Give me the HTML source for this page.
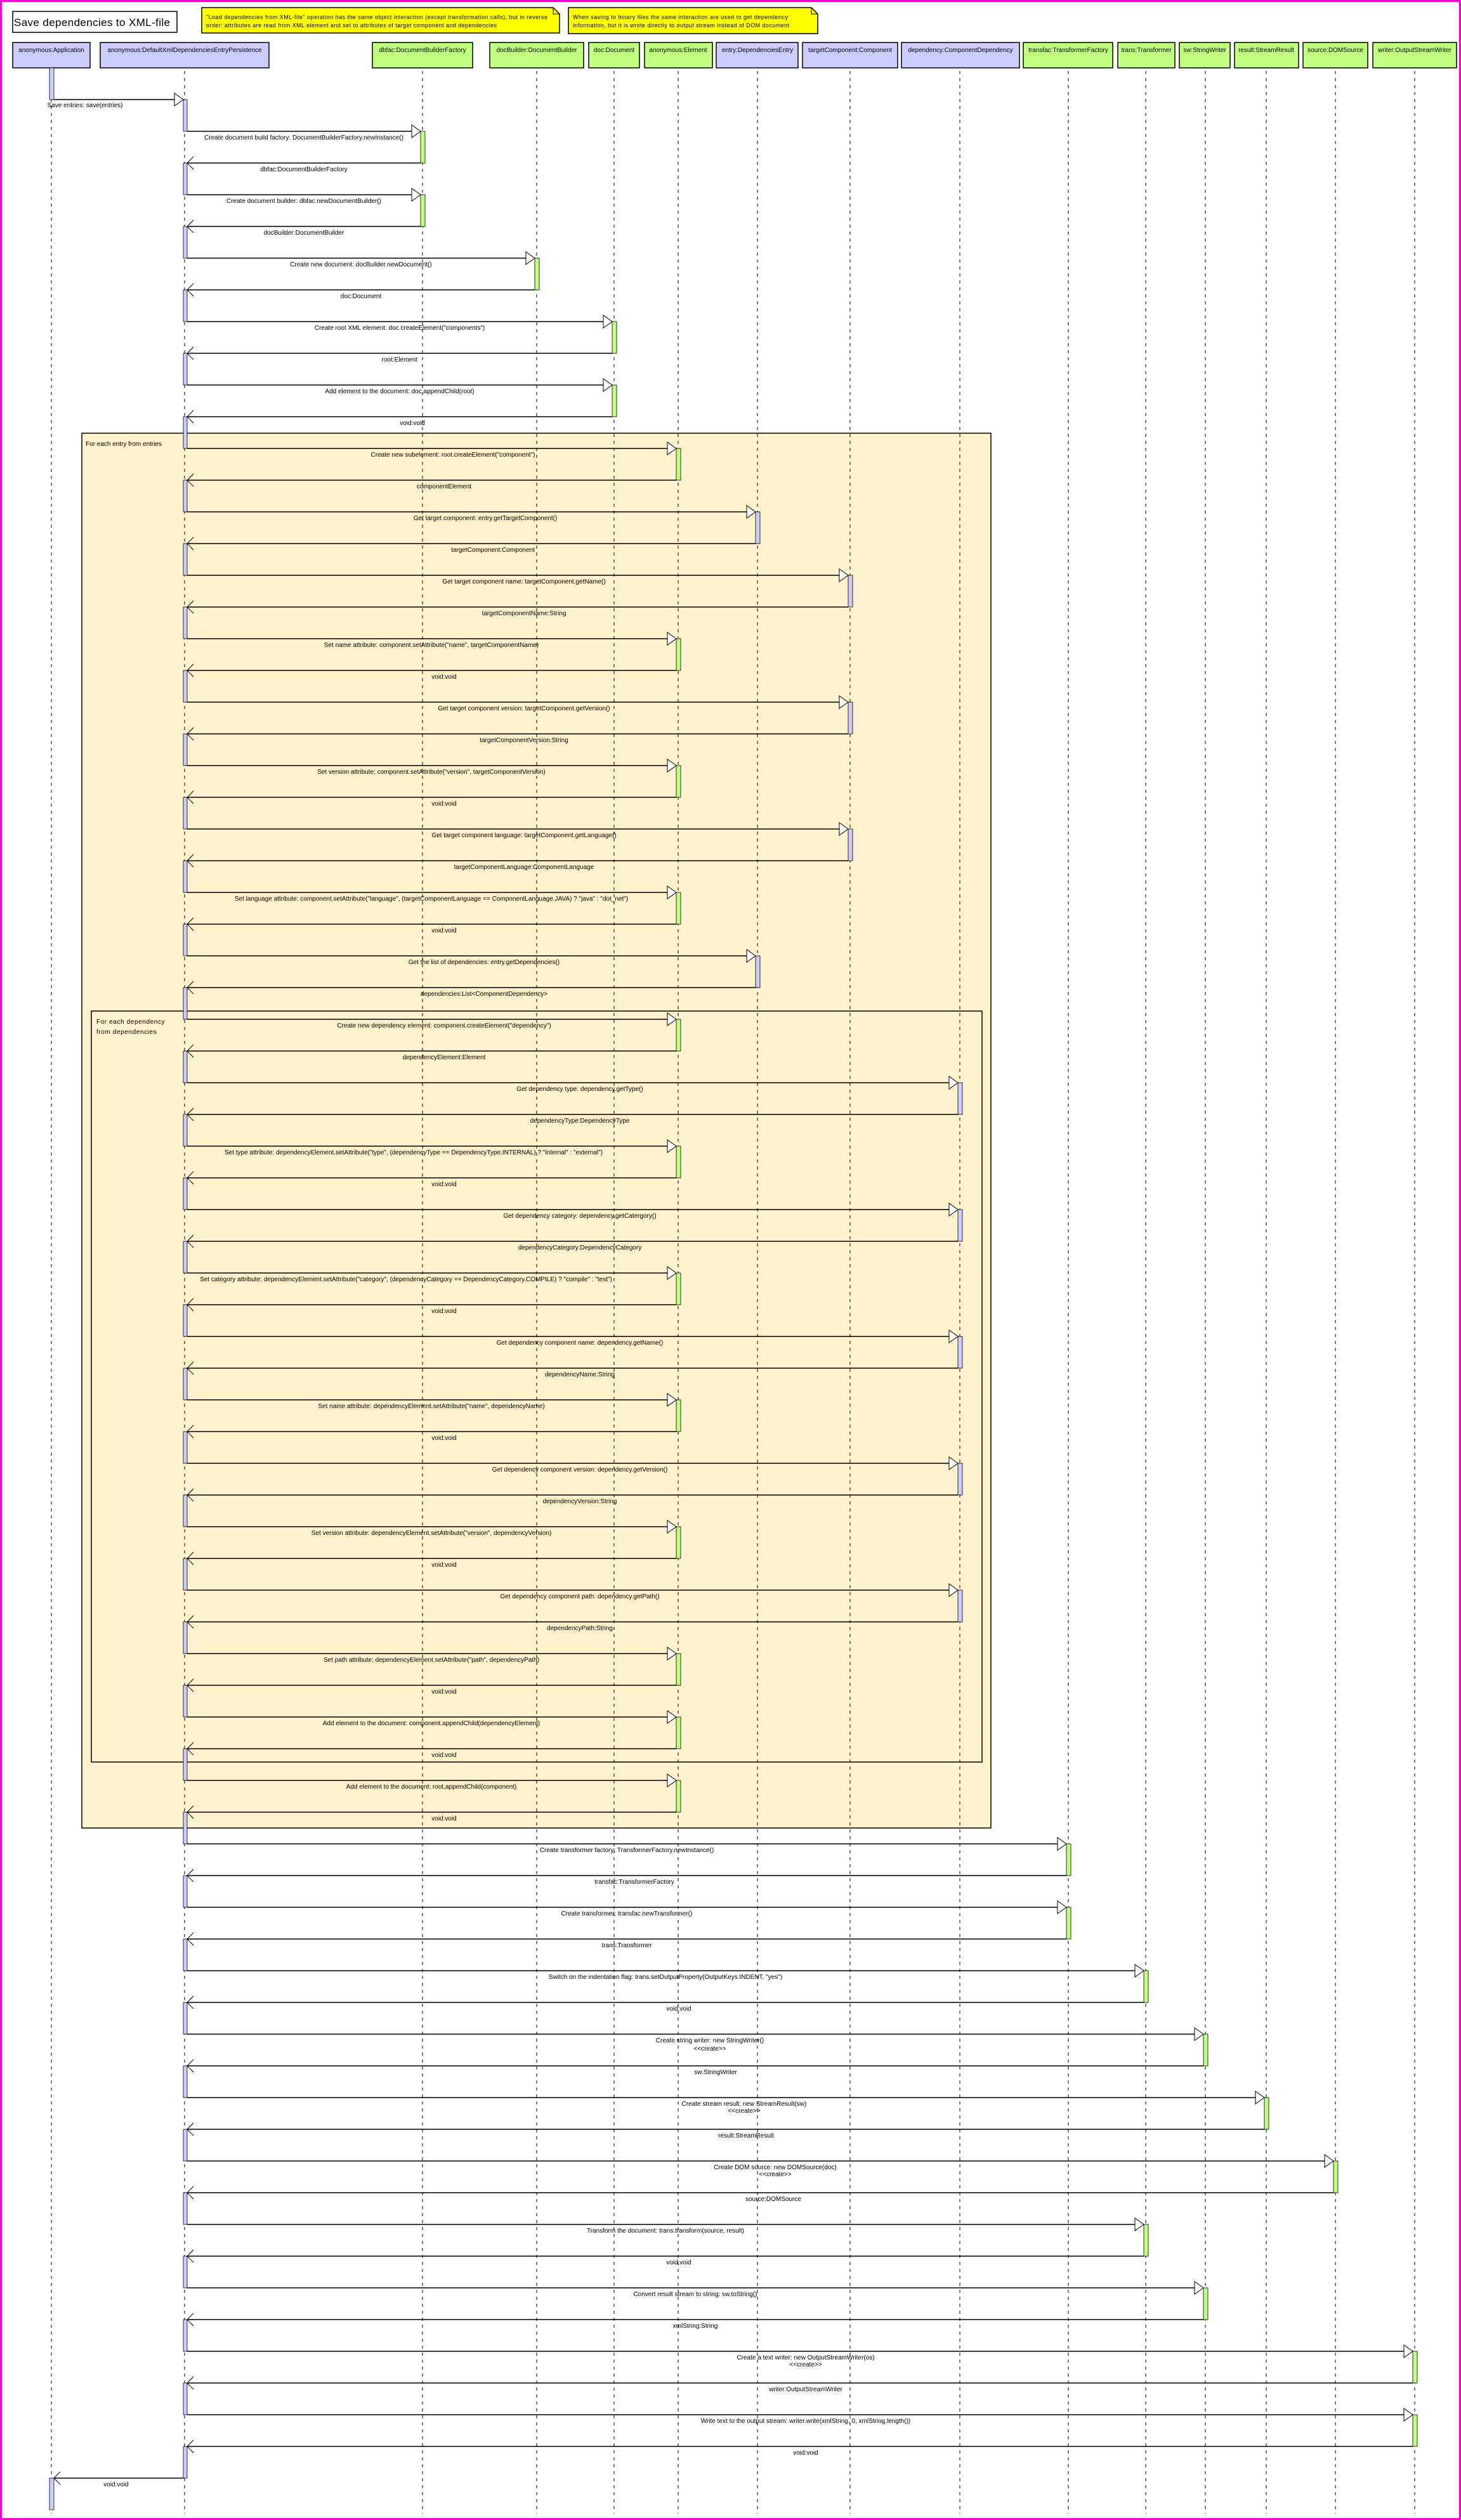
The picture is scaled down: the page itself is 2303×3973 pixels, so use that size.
<!DOCTYPE html>
<html><head><meta charset="utf-8"><style>
html,body{margin:0;padding:0;background:#fff}
svg{display:block}
text{font-family:"Liberation Sans",sans-serif;font-size:10px;fill:#000}
.m{text-anchor:middle}
.ln{stroke:#000;stroke-width:1.5;fill:none}
.ll{stroke:#000;stroke-width:1;stroke-dasharray:5,6}
.tri{fill:#fff;stroke:#000;stroke-width:1}
.op{fill:none;stroke:#000;stroke-width:1}
.g{fill:#c0ff80;stroke:#000;stroke-width:0.8}
.b{fill:#ccccff;stroke:#000;stroke-width:0.8}
.hb{fill:#ccccff;stroke:#000;stroke-width:1.5}
.hg{fill:#c0ff80;stroke:#000;stroke-width:1.5}
</style></head><body>
<svg width="2303" height="3973" viewBox="0 0 2303 3973" xmlns="http://www.w3.org/2000/svg">
<rect x="1.5" y="1.5" width="2300" height="3970" fill="#fff" stroke="#ff00cc" stroke-width="3"/>
<!-- title -->
<rect x="20" y="18" width="259" height="33" fill="#fff" stroke="#000" stroke-width="1.5"/>
<text x="22" y="41" style="font-size:17px" textLength="246">Save dependencies to XML-file</text>
<!-- notes -->
<path d="M318,12 L872,12 L882,22 L882,52 L318,52 Z" fill="#ffff00" stroke="#000" stroke-width="1.5"/>
<path d="M872,12 L872,22 L882,22" fill="none" stroke="#000" stroke-width="1"/>
<text x="325" y="30" style="font-size:9px" textLength="538">"Load dependencies from XML-file" operation has the same object interaction (except transformation calls), but in reverse</text>
<text x="325" y="43" style="font-size:9px" textLength="458">order: attributes are read from XML element and set to attributes of target component and dependencies</text>
<path d="M896,12 L1279,12 L1289,22 L1289,53 L896,53 Z" fill="#ffff00" stroke="#000" stroke-width="1.5"/>
<path d="M1279,12 L1279,22 L1289,22" fill="none" stroke="#000" stroke-width="1"/>
<text x="903" y="30" style="font-size:9px" textLength="339">When saving to binary files the same interaction are used to get dependency</text>
<text x="903" y="43" style="font-size:9px" textLength="341">information, but it is wrote directly to output stream instead of DOM document</text>
<!-- headers -->
<rect class="hb" x="20" y="67" width="122" height="40"/><text class="m" x="81" y="82">anonymous:Application</text>
<rect class="hb" x="158" y="67" width="266" height="40"/><text class="m" x="291" y="82">anonymous:DefaultXmlDependenciesEntryPersistence</text>
<rect class="hg" x="587" y="67" width="158" height="40"/><text class="m" x="666" y="82">dbfac:DocumentBuilderFactory</text>
<rect class="hg" x="772" y="67" width="148" height="40"/><text class="m" x="846" y="82">docBuilder:DocumentBuilder</text>
<rect class="hg" x="928" y="67" width="80" height="40"/><text class="m" x="968" y="82">doc:Document</text>
<rect class="hg" x="1016" y="67" width="107" height="40"/><text class="m" x="1069" y="82">anonymous:Element</text>
<rect class="hb" x="1129" y="67" width="129" height="40"/><text class="m" x="1194" y="82">entry:DependenciesEntry</text>
<rect class="hb" x="1265" y="67" width="150" height="40"/><text class="m" x="1340" y="82">targetComponent:Component</text>
<rect class="hb" x="1421" y="67" width="186" height="40"/><text class="m" x="1514" y="82">dependency:ComponentDependency</text>
<rect class="hg" x="1613" y="67" width="141" height="40"/><text class="m" x="1684" y="82">transfac:TransformerFactory</text>
<rect class="hg" x="1762" y="67" width="90" height="40"/><text class="m" x="1807" y="82">trans:Transformer</text>
<rect class="hg" x="1859" y="67" width="80" height="40"/><text class="m" x="1899" y="82">sw:StringWriter</text>
<rect class="hg" x="1946" y="67" width="101" height="40"/><text class="m" x="1996" y="82">result:StreamResult</text>
<rect class="hg" x="2054" y="67" width="102" height="40"/><text class="m" x="2105" y="82">source:DOMSource</text>
<rect class="hg" x="2164" y="67" width="132" height="40"/><text class="m" x="2230" y="82">writer:OutputStreamWriter</text>
<!-- loop frames -->
<rect x="129" y="683" width="1433" height="2199" fill="#fff2cc" stroke="#000" stroke-width="1.5"/>
<text x="135" y="703">For each entry from entries</text>
<rect x="144" y="1594" width="1404" height="1184" fill="#fff2cc" stroke="#000" stroke-width="1.5"/>
<text x="152" y="1614" style="letter-spacing:0.6px">For each dependency</text>
<text x="152" y="1630" style="letter-spacing:0.6px">from dependencies</text>
<!-- lifelines -->
<line class="ll" x1="81" y1="112" x2="81" y2="3963"/>
<line class="ll" x1="291" y1="112" x2="291" y2="3963"/>
<line class="ll" x1="666" y1="112" x2="666" y2="3963"/>
<line class="ll" x1="846" y1="112" x2="846" y2="3963"/>
<line class="ll" x1="968" y1="112" x2="968" y2="3963"/>
<line class="ll" x1="1069" y1="112" x2="1069" y2="3963"/>
<line class="ll" x1="1194" y1="112" x2="1194" y2="3963"/>
<line class="ll" x1="1340" y1="112" x2="1340" y2="3963"/>
<line class="ll" x1="1513" y1="112" x2="1513" y2="3963"/>
<line class="ll" x1="1684" y1="112" x2="1684" y2="3963"/>
<line class="ll" x1="1806" y1="112" x2="1806" y2="3963"/>
<line class="ll" x1="1900" y1="112" x2="1900" y2="3963"/>
<line class="ll" x1="1996" y1="112" x2="1996" y2="3963"/>
<line class="ll" x1="2105" y1="112" x2="2105" y2="3963"/>
<line class="ll" x1="2230" y1="112" x2="2230" y2="3963"/>

<!-- app activations and save -->
<rect class="b" x="78" y="107" width="7" height="50"/>
<line class="ln" x1="85" y1="157" x2="289" y2="157"/>
<polygon class="tri" points="289,157 275,147 275,167"/>
<rect class="b" x="289" y="157" width="6" height="50"/>
<text class="m" x="134" y="169">Save entries: save(entries)</text>
<line class="ln" x1="289" y1="3907" x2="85" y2="3907"/>
<polyline class="op" points="95,3897 85,3907 95,3917"/>
<rect class="b" x="78" y="3907" width="7" height="50"/>
<text class="m" x="183" y="3920">void:void</text>

<!-- 207 dbfac -->
<line class="ln" x1="295" y1="207" x2="663" y2="207"/><polygon class="tri" points="663,207 649,197 649,217"/><rect class="g" x="663" y="207" width="7" height="50"/>
<text class="m" x="479" y="220">Create document build factory: DocumentBuilderFactory.newInstance()</text>
<line class="ln" x1="663" y1="257" x2="295" y2="257"/><polyline class="op" points="305,247 295,257 305,267"/><rect class="b" x="289" y="257" width="6" height="50"/>
<text class="m" x="479" y="270">dbfac:DocumentBuilderFactory</text>
<!-- 307 -->
<line class="ln" x1="295" y1="307" x2="663" y2="307"/><polygon class="tri" points="663,307 649,297 649,317"/><rect class="g" x="663" y="307" width="7" height="50"/>
<text class="m" x="479" y="320">Create document builder: dbfac.newDocumentBuilder()</text>
<line class="ln" x1="663" y1="357" x2="295" y2="357"/><polyline class="op" points="305,347 295,357 305,367"/><rect class="b" x="289" y="357" width="6" height="50"/>
<text class="m" x="479" y="370">docBuilder:DocumentBuilder</text>
<!-- 407 docB -->
<line class="ln" x1="295" y1="407" x2="843" y2="407"/><polygon class="tri" points="843,407 829,397 829,417"/><rect class="g" x="843" y="407" width="7" height="50"/>
<text class="m" x="569" y="420">Create new document: docBuilder.newDocument()</text>
<line class="ln" x1="843" y1="457" x2="295" y2="457"/><polyline class="op" points="305,447 295,457 305,467"/><rect class="b" x="289" y="457" width="6" height="50"/>
<text class="m" x="569" y="470">doc:Document</text>
<!-- 507 doc -->
<line class="ln" x1="295" y1="507" x2="965" y2="507"/><polygon class="tri" points="965,507 951,497 951,517"/><rect class="g" x="965" y="507" width="7" height="50"/>
<text class="m" x="630" y="520">Create root XML element: doc.createElement("components")</text>
<line class="ln" x1="965" y1="557" x2="295" y2="557"/><polyline class="op" points="305,547 295,557 305,567"/><rect class="b" x="289" y="557" width="6" height="50"/>
<text class="m" x="630" y="570">root:Element</text>
<!-- 607 doc -->
<line class="ln" x1="295" y1="607" x2="965" y2="607"/><polygon class="tri" points="965,607 951,597 951,617"/><rect class="g" x="965" y="607" width="7" height="50"/>
<text class="m" x="630" y="620">Add element to the document: doc.appendChild(root)</text>
<line class="ln" x1="965" y1="657" x2="295" y2="657"/><polyline class="op" points="305,647 295,657 305,667"/><rect class="b" x="289" y="657" width="6" height="50"/>
<text class="m" x="650" y="670">void:void</text>
<!-- 707 elem -->
<line class="ln" x1="295" y1="707" x2="1066" y2="707"/><polygon class="tri" points="1066,707 1052,697 1052,717"/><rect class="g" x="1066" y="707" width="7" height="50"/>
<text class="m" x="714" y="720">Create new subelement: root.createElement("component")</text>
<line class="ln" x1="1066" y1="757" x2="295" y2="757"/><polyline class="op" points="305,747 295,757 305,767"/><rect class="b" x="289" y="757" width="6" height="50"/>
<text class="m" x="700" y="770">componentElement</text>
<!-- 807 entry -->
<line class="ln" x1="295" y1="807" x2="1191" y2="807"/><polygon class="tri" points="1191,807 1177,797 1177,817"/><rect class="b" x="1191" y="807" width="7" height="50"/>
<text class="m" x="765" y="820">Get target component: entry.getTargetComponent()</text>
<line class="ln" x1="1191" y1="857" x2="295" y2="857"/><polyline class="op" points="305,847 295,857 305,867"/><rect class="b" x="289" y="857" width="6" height="50"/>
<text class="m" x="777" y="870">targetComponent:Component</text>
<!-- 907 tc -->
<line class="ln" x1="295" y1="907" x2="1337" y2="907"/><polygon class="tri" points="1337,907 1323,897 1323,917"/><rect class="b" x="1337" y="907" width="7" height="50"/>
<text class="m" x="826" y="920">Get target component name: targetComponent.getName()</text>
<line class="ln" x1="1337" y1="957" x2="295" y2="957"/><polyline class="op" points="305,947 295,957 305,967"/><rect class="b" x="289" y="957" width="6" height="50"/>
<text class="m" x="826" y="970">targetComponentName:String</text>
<!-- 1007 elem -->
<line class="ln" x1="295" y1="1007" x2="1066" y2="1007"/><polygon class="tri" points="1066,1007 1052,997 1052,1017"/><rect class="g" x="1066" y="1007" width="7" height="50"/>
<text class="m" x="680" y="1020">Set name attribute: component.setAttribute("name", targetComponentName)</text>
<line class="ln" x1="1066" y1="1057" x2="295" y2="1057"/><polyline class="op" points="305,1047 295,1057 305,1067"/><rect class="b" x="289" y="1057" width="6" height="50"/>
<text class="m" x="700" y="1070">void:void</text>
<!-- 1107 tc -->
<line class="ln" x1="295" y1="1107" x2="1337" y2="1107"/><polygon class="tri" points="1337,1107 1323,1097 1323,1117"/><rect class="b" x="1337" y="1107" width="7" height="50"/>
<text class="m" x="826" y="1120">Get target component version: targetComponent.getVersion()</text>
<line class="ln" x1="1337" y1="1157" x2="295" y2="1157"/><polyline class="op" points="305,1147 295,1157 305,1167"/><rect class="b" x="289" y="1157" width="6" height="50"/>
<text class="m" x="826" y="1170">targetComponentVersion:String</text>
<!-- 1207 elem -->
<line class="ln" x1="295" y1="1207" x2="1066" y2="1207"/><polygon class="tri" points="1066,1207 1052,1197 1052,1217"/><rect class="g" x="1066" y="1207" width="7" height="50"/>
<text class="m" x="680" y="1220">Set version attribute: component.setAttribute("version", targetComponentVersion)</text>
<line class="ln" x1="1066" y1="1257" x2="295" y2="1257"/><polyline class="op" points="305,1247 295,1257 305,1267"/><rect class="b" x="289" y="1257" width="6" height="50"/>
<text class="m" x="700" y="1270">void:void</text>
<!-- 1307 tc -->
<line class="ln" x1="295" y1="1307" x2="1337" y2="1307"/><polygon class="tri" points="1337,1307 1323,1297 1323,1317"/><rect class="b" x="1337" y="1307" width="7" height="50"/>
<text class="m" x="826" y="1320">Get target component language: targetComponent.getLanguage()</text>
<line class="ln" x1="1337" y1="1357" x2="295" y2="1357"/><polyline class="op" points="305,1347 295,1357 305,1367"/><rect class="b" x="289" y="1357" width="6" height="50"/>
<text class="m" x="826" y="1370">targetComponentLanguage:ComponentLanguage</text>
<!-- 1407 elem -->
<line class="ln" x1="295" y1="1407" x2="1066" y2="1407"/><polygon class="tri" points="1066,1407 1052,1397 1052,1417"/><rect class="g" x="1066" y="1407" width="7" height="50"/>
<text class="m" x="680" y="1420">Set language attribute: component.setAttribute("language", (targetComponentLanguage == ComponentLanguage.JAVA) ? "java" : "dot_net")</text>
<line class="ln" x1="1066" y1="1457" x2="295" y2="1457"/><polyline class="op" points="305,1447 295,1457 305,1467"/><rect class="b" x="289" y="1457" width="6" height="50"/>
<text class="m" x="700" y="1470">void:void</text>
<!-- 1507 entry -->
<line class="ln" x1="295" y1="1507" x2="1191" y2="1507"/><polygon class="tri" points="1191,1507 1177,1497 1177,1517"/><rect class="b" x="1191" y="1507" width="7" height="50"/>
<text class="m" x="763" y="1520">Get the list of dependencies: entry.getDependencies()</text>
<line class="ln" x1="1191" y1="1557" x2="295" y2="1557"/><polyline class="op" points="305,1547 295,1557 305,1567"/><rect class="b" x="289" y="1557" width="6" height="50"/>
<text class="m" x="763" y="1570">dependencies:List&lt;ComponentDependency&gt;</text>
<!-- 1607 elem -->
<line class="ln" x1="295" y1="1607" x2="1066" y2="1607"/><polygon class="tri" points="1066,1607 1052,1597 1052,1617"/><rect class="g" x="1066" y="1607" width="7" height="50"/>
<text class="m" x="700" y="1620">Create new dependency element: component.createElement("dependency")</text>
<line class="ln" x1="1066" y1="1657" x2="295" y2="1657"/><polyline class="op" points="305,1647 295,1657 305,1667"/><rect class="b" x="289" y="1657" width="6" height="50"/>
<text class="m" x="700" y="1670">dependencyElement:Element</text>
<!-- 1707 dep -->
<line class="ln" x1="295" y1="1707" x2="1510" y2="1707"/><polygon class="tri" points="1510,1707 1496,1697 1496,1717"/><rect class="b" x="1510" y="1707" width="7" height="50"/>
<text class="m" x="914" y="1720">Get dependency type: dependency.getType()</text>
<line class="ln" x1="1510" y1="1757" x2="295" y2="1757"/><polyline class="op" points="305,1747 295,1757 305,1767"/><rect class="b" x="289" y="1757" width="6" height="50"/>
<text class="m" x="914" y="1770">dependencyType:DependencyType</text>
<!-- 1807 elem -->
<line class="ln" x1="295" y1="1807" x2="1066" y2="1807"/><polygon class="tri" points="1066,1807 1052,1797 1052,1817"/><rect class="g" x="1066" y="1807" width="7" height="50"/>
<text class="m" x="652" y="1820">Set type attribute: dependencyElement.setAttribute("type", (dependencyType == DependencyType.INTERNAL) ? "internal" : "external")</text>
<line class="ln" x1="1066" y1="1857" x2="295" y2="1857"/><polyline class="op" points="305,1847 295,1857 305,1867"/><rect class="b" x="289" y="1857" width="6" height="50"/>
<text class="m" x="700" y="1870">void:void</text>
<!-- 1907 dep -->
<line class="ln" x1="295" y1="1907" x2="1510" y2="1907"/><polygon class="tri" points="1510,1907 1496,1897 1496,1917"/><rect class="b" x="1510" y="1907" width="7" height="50"/>
<text class="m" x="914" y="1920">Get dependency category: dependency.getCatergory()</text>
<line class="ln" x1="1510" y1="1957" x2="295" y2="1957"/><polyline class="op" points="305,1947 295,1957 305,1967"/><rect class="b" x="289" y="1957" width="6" height="50"/>
<text class="m" x="914" y="1970">dependencyCategory:DependencyCategory</text>
<!-- 2007 elem -->
<line class="ln" x1="295" y1="2007" x2="1066" y2="2007"/><polygon class="tri" points="1066,2007 1052,1997 1052,2017"/><rect class="g" x="1066" y="2007" width="7" height="50"/>
<text class="m" x="640" y="2020">Set category attribute: dependencyElement.setAttribute("category", (dependencyCategory == DependencyCategory.COMPILE) ? "compile" : "test")</text>
<line class="ln" x1="1066" y1="2057" x2="295" y2="2057"/><polyline class="op" points="305,2047 295,2057 305,2067"/><rect class="b" x="289" y="2057" width="6" height="50"/>
<text class="m" x="700" y="2070">void:void</text>
<!-- 2107 dep -->
<line class="ln" x1="295" y1="2107" x2="1510" y2="2107"/><polygon class="tri" points="1510,2107 1496,2097 1496,2117"/><rect class="b" x="1510" y="2107" width="7" height="50"/>
<text class="m" x="914" y="2120">Get dependency component name: dependency.getName()</text>
<line class="ln" x1="1510" y1="2157" x2="295" y2="2157"/><polyline class="op" points="305,2147 295,2157 305,2167"/><rect class="b" x="289" y="2157" width="6" height="50"/>
<text class="m" x="914" y="2170">dependencyName:String</text>
<!-- 2207 elem -->
<line class="ln" x1="295" y1="2207" x2="1066" y2="2207"/><polygon class="tri" points="1066,2207 1052,2197 1052,2217"/><rect class="g" x="1066" y="2207" width="7" height="50"/>
<text class="m" x="680" y="2220">Set name attribute: dependencyElement.setAttribute("name", dependencyName)</text>
<line class="ln" x1="1066" y1="2257" x2="295" y2="2257"/><polyline class="op" points="305,2247 295,2257 305,2267"/><rect class="b" x="289" y="2257" width="6" height="50"/>
<text class="m" x="700" y="2270">void:void</text>
<!-- 2307 dep -->
<line class="ln" x1="295" y1="2307" x2="1510" y2="2307"/><polygon class="tri" points="1510,2307 1496,2297 1496,2317"/><rect class="b" x="1510" y="2307" width="7" height="50"/>
<text class="m" x="914" y="2320">Get dependency component version: dependency.getVersion()</text>
<line class="ln" x1="1510" y1="2357" x2="295" y2="2357"/><polyline class="op" points="305,2347 295,2357 305,2367"/><rect class="b" x="289" y="2357" width="6" height="50"/>
<text class="m" x="914" y="2370">dependencyVersion:String</text>
<!-- 2407 elem -->
<line class="ln" x1="295" y1="2407" x2="1066" y2="2407"/><polygon class="tri" points="1066,2407 1052,2397 1052,2417"/><rect class="g" x="1066" y="2407" width="7" height="50"/>
<text class="m" x="680" y="2420">Set version attribute: dependencyElement.setAttribute("version", dependencyVersion)</text>
<line class="ln" x1="1066" y1="2457" x2="295" y2="2457"/><polyline class="op" points="305,2447 295,2457 305,2467"/><rect class="b" x="289" y="2457" width="6" height="50"/>
<text class="m" x="700" y="2470">void:void</text>
<!-- 2507 dep -->
<line class="ln" x1="295" y1="2507" x2="1510" y2="2507"/><polygon class="tri" points="1510,2507 1496,2497 1496,2517"/><rect class="b" x="1510" y="2507" width="7" height="50"/>
<text class="m" x="914" y="2520">Get dependency component path: dependency.getPath()</text>
<line class="ln" x1="1510" y1="2557" x2="295" y2="2557"/><polyline class="op" points="305,2547 295,2557 305,2567"/><rect class="b" x="289" y="2557" width="6" height="50"/>
<text class="m" x="914" y="2570">dependencyPath:String</text>
<!-- 2607 elem -->
<line class="ln" x1="295" y1="2607" x2="1066" y2="2607"/><polygon class="tri" points="1066,2607 1052,2597 1052,2617"/><rect class="g" x="1066" y="2607" width="7" height="50"/>
<text class="m" x="680" y="2620">Set path attribute: dependencyElement.setAttribute("path", dependencyPath)</text>
<line class="ln" x1="1066" y1="2657" x2="295" y2="2657"/><polyline class="op" points="305,2647 295,2657 305,2667"/><rect class="b" x="289" y="2657" width="6" height="50"/>
<text class="m" x="700" y="2670">void:void</text>
<!-- 2707 elem -->
<line class="ln" x1="295" y1="2707" x2="1066" y2="2707"/><polygon class="tri" points="1066,2707 1052,2697 1052,2717"/><rect class="g" x="1066" y="2707" width="7" height="50"/>
<text class="m" x="680" y="2720">Add element to the document: component.appendChild(dependencyElement)</text>
<line class="ln" x1="1066" y1="2757" x2="295" y2="2757"/><polyline class="op" points="305,2747 295,2757 305,2767"/><rect class="b" x="289" y="2757" width="6" height="50"/>
<text class="m" x="700" y="2770">void:void</text>
<!-- 2807 elem -->
<line class="ln" x1="295" y1="2807" x2="1066" y2="2807"/><polygon class="tri" points="1066,2807 1052,2797 1052,2817"/><rect class="g" x="1066" y="2807" width="7" height="50"/>
<text class="m" x="680" y="2820">Add element to the document: root.appendChild(component)</text>
<line class="ln" x1="1066" y1="2857" x2="295" y2="2857"/><polyline class="op" points="305,2847 295,2857 305,2867"/><rect class="b" x="289" y="2857" width="6" height="50"/>
<text class="m" x="700" y="2870">void:void</text>
<!-- 2907 tf -->
<line class="ln" x1="295" y1="2907" x2="1681" y2="2907"/><polygon class="tri" points="1681,2907 1667,2897 1667,2917"/><rect class="g" x="1681" y="2907" width="7" height="50"/>
<text class="m" x="988" y="2920">Create transformer factory: TransformerFactory.newInstance()</text>
<line class="ln" x1="1681" y1="2957" x2="295" y2="2957"/><polyline class="op" points="305,2947 295,2957 305,2967"/><rect class="b" x="289" y="2957" width="6" height="50"/>
<text class="m" x="1000" y="2970">transfac:TransformerFactory</text>
<!-- 3007 tf -->
<line class="ln" x1="295" y1="3007" x2="1681" y2="3007"/><polygon class="tri" points="1681,3007 1667,2997 1667,3017"/><rect class="g" x="1681" y="3007" width="7" height="50"/>
<text class="m" x="988" y="3020">Create transformer: transfac.newTransformer()</text>
<line class="ln" x1="1681" y1="3057" x2="295" y2="3057"/><polyline class="op" points="305,3047 295,3057 305,3067"/><rect class="b" x="289" y="3057" width="6" height="50"/>
<text class="m" x="988" y="3070">trans:Transformer</text>
<!-- 3107 tr -->
<line class="ln" x1="295" y1="3107" x2="1803" y2="3107"/><polygon class="tri" points="1803,3107 1789,3097 1789,3117"/><rect class="g" x="1803" y="3107" width="7" height="50"/>
<text class="m" x="1049" y="3120">Switch on the indentation flag: trans.setOutputProperty(OutputKeys.INDENT, "yes")</text>
<line class="ln" x1="1803" y1="3157" x2="295" y2="3157"/><polyline class="op" points="305,3147 295,3157 305,3167"/><rect class="b" x="289" y="3157" width="6" height="50"/>
<text class="m" x="1070" y="3170">void:void</text>
<!-- 3207 sw create -->
<line class="ln" x1="295" y1="3207" x2="1897" y2="3207"/><polygon class="tri" points="1897,3207 1883,3197 1883,3217"/><rect class="g" x="1897" y="3207" width="7" height="50"/>
<text class="m" x="1119" y="3220">Create string writer: new StringWriter()</text>
<text class="m" x="1119" y="3233">&lt;&lt;create&gt;&gt;</text>
<line class="ln" x1="1897" y1="3257" x2="295" y2="3257"/><polyline class="op" points="305,3247 295,3257 305,3267"/><rect class="b" x="289" y="3257" width="6" height="50"/>
<text class="m" x="1128" y="3270">sw:StringWriter</text>
<!-- 3307 res create -->
<line class="ln" x1="295" y1="3307" x2="1993" y2="3307"/><polygon class="tri" points="1993,3307 1979,3297 1979,3317"/><rect class="g" x="1993" y="3307" width="7" height="50"/>
<text class="m" x="1173" y="3320">Create stream result: new StreamResult(sw)</text>
<text class="m" x="1173" y="3331">&lt;&lt;create&gt;&gt;</text>
<line class="ln" x1="1993" y1="3357" x2="295" y2="3357"/><polyline class="op" points="305,3347 295,3357 305,3367"/><rect class="b" x="289" y="3357" width="6" height="50"/>
<text class="m" x="1176" y="3370">result:StreamResult</text>
<!-- 3407 src create -->
<line class="ln" x1="295" y1="3407" x2="2102" y2="3407"/><polygon class="tri" points="2102,3407 2088,3397 2088,3417"/><rect class="g" x="2102" y="3407" width="7" height="50"/>
<text class="m" x="1222" y="3420">Create DOM source: new DOMSource(doc)</text>
<text class="m" x="1222" y="3431">&lt;&lt;create&gt;&gt;</text>
<line class="ln" x1="2102" y1="3457" x2="295" y2="3457"/><polyline class="op" points="305,3447 295,3457 305,3467"/><rect class="b" x="289" y="3457" width="6" height="50"/>
<text class="m" x="1219" y="3470">source:DOMSource</text>
<!-- 3507 tr -->
<line class="ln" x1="295" y1="3507" x2="1803" y2="3507"/><polygon class="tri" points="1803,3507 1789,3497 1789,3517"/><rect class="g" x="1803" y="3507" width="7" height="50"/>
<text class="m" x="1049" y="3520">Transform the document: trans.transform(source, result)</text>
<line class="ln" x1="1803" y1="3557" x2="295" y2="3557"/><polyline class="op" points="305,3547 295,3557 305,3567"/><rect class="b" x="289" y="3557" width="6" height="50"/>
<text class="m" x="1070" y="3570">void:void</text>
<!-- 3607 sw -->
<line class="ln" x1="295" y1="3607" x2="1897" y2="3607"/><polygon class="tri" points="1897,3607 1883,3597 1883,3617"/><rect class="g" x="1897" y="3607" width="7" height="50"/>
<text class="m" x="1096" y="3620">Convert result stream to string: sw.toString()</text>
<line class="ln" x1="1897" y1="3657" x2="295" y2="3657"/><polyline class="op" points="305,3647 295,3657 305,3667"/><rect class="b" x="289" y="3657" width="6" height="50"/>
<text class="m" x="1096" y="3670">xmlString:String</text>
<!-- 3707 wr create -->
<line class="ln" x1="295" y1="3707" x2="2227" y2="3707"/><polygon class="tri" points="2227,3707 2213,3697 2213,3717"/><rect class="g" x="2227" y="3707" width="7" height="50"/>
<text class="m" x="1270" y="3720">Create a text writer: new OutputStreamWriter(os)</text>
<text class="m" x="1270" y="3731">&lt;&lt;create&gt;&gt;</text>
<line class="ln" x1="2227" y1="3757" x2="295" y2="3757"/><polyline class="op" points="305,3747 295,3757 305,3767"/><rect class="b" x="289" y="3757" width="6" height="50"/>
<text class="m" x="1270" y="3770">writer:OutputStreamWriter</text>
<!-- 3807 wr -->
<line class="ln" x1="295" y1="3807" x2="2227" y2="3807"/><polygon class="tri" points="2227,3807 2213,3797 2213,3817"/><rect class="g" x="2227" y="3807" width="7" height="50"/>
<text class="m" x="1270" y="3820">Write text to the output stream: writer.write(xmlString, 0, xmlString.length())</text>
<line class="ln" x1="2227" y1="3857" x2="295" y2="3857"/><polyline class="op" points="305,3847 295,3857 305,3867"/><rect class="b" x="289" y="3857" width="6" height="50"/>
<text class="m" x="1270" y="3870">void:void</text>
</svg>
</body></html>
